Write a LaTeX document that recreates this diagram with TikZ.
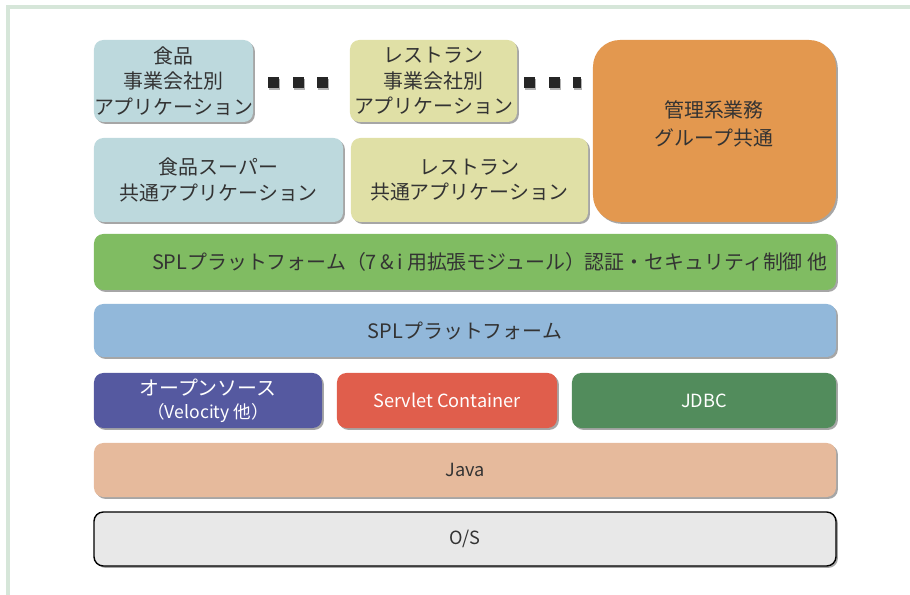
\documentclass[tikz,border=0pt]{standalone}
\usepackage{fontspec}
\setmainfont{Noto Sans CJK JP}
\usetikzlibrary{shadows}

\definecolor{framegreen}{HTML}{D6E6D9}
\definecolor{txtgray}{HTML}{333333}
\definecolor{foodblue}{HTML}{BDD9DD}
\definecolor{restyellow}{HTML}{E0E0A6}
\definecolor{kanriorange}{HTML}{E3984F}
\definecolor{extgreen}{HTML}{80BC62}
\definecolor{splblue}{HTML}{92B8DA}
\definecolor{ossviolet}{HTML}{5559A0}
\definecolor{servletred}{HTML}{E05E4C}
\definecolor{jdbcgreen}{HTML}{528C5C}
\definecolor{javabeige}{HTML}{E6BA9C}
\definecolor{osgray}{HTML}{E8E8E8}

\begin{document}
\begin{tikzpicture}[x=0.03cm,y=-0.03cm,inner sep=0pt,outer sep=0pt,
  every node/.style={font=\fontsize{17}{21.5}\selectfont, text=txtgray},
  layer/.style={rectangle, rounded corners=8pt, align=center,
    drop shadow={shadow xshift=1.6pt, shadow yshift=-1.6pt, fill=black!35, opacity=1}},
  dotbox/.style={rectangle, fill=black!85, minimum height=0.33cm,
    drop shadow={shadow xshift=1pt, shadow yshift=-1pt, fill=black!30, opacity=1}},
  latin/.style={font=\fontsize{15.5}{19}\selectfont}]
  \useasboundingbox (0,0) rectangle (910,595);
  % frame
  \draw[framegreen, line width=2.6pt] (8,595) -- (8,7) -- (910,7);

  % applications
  \node[layer, fill=foodblue, minimum width=4.77cm, minimum height=2.46cm] (foodCorp) at (173.5,81)
    {食品\\事業会社別\\アプリケーション};
  \node[layer, fill=restyellow, minimum width=5.01cm, minimum height=2.46cm] (restCorp) at (433.5,81)
    {レストラン\\事業会社別\\アプリケーション};
  \node[layer, fill=foodblue, minimum width=7.47cm, minimum height=2.52cm] (foodCommon) at (218.5,180)
    {食品スーパー\\共通アプリケーション};
  \node[layer, fill=restyellow, minimum width=7.11cm, minimum height=2.52cm] (restCommon) at (469.5,180)
    {レストラン\\共通アプリケーション};
  \node[layer, fill=kanriorange, rounded corners=23pt, minimum width=7.29cm, minimum height=5.46cm] (kanri) at (714.5,131) {};
  \node[align=center] (kanriLabel) at (714,124) {管理系業務\\[3pt]グループ共通};

  % dots
  \node[dotbox, minimum width=0.33cm] (dotA1) at (273,83) {};
  \node[dotbox, minimum width=0.33cm] (dotA2) at (298,83) {};
  \node[dotbox, minimum width=0.33cm] (dotA3) at (322,83) {};
  \node[dotbox, minimum width=0.33cm] (dotB1) at (529,83) {};
  \node[dotbox, minimum width=0.33cm] (dotB2) at (554,83) {};
  \node[dotbox, minimum width=0.24cm] (dotB3) at (576.5,83) {};

  % platform
  \node[layer, fill=extgreen, minimum width=22.26cm, minimum height=1.68cm] (splExt) at (465,262) {};
  \node[anchor=west] (splExtLabel) at (152,262)
    {SPLプラットフォーム（7\,\&\,i 用拡張モジュール）認証・セキュリティ制御 他};
  \node[layer, fill=splblue, minimum width=22.26cm, minimum height=1.59cm] (spl) at (465,330.5)
    {SPLプラットフォーム};

  % middleware
  \node[layer, fill=ossviolet, minimum width=6.84cm, minimum height=1.65cm, text=white] (oss) at (208,400.5)
    {オープンソース\\[-2pt]{\fontsize{15}{17}\selectfont （Velocity 他）}};
  \node[layer, latin, fill=servletred, minimum width=6.6cm, minimum height=1.65cm, text=white] (servlet) at (447,400.5)
    {Servlet Container};
  \node[layer, latin, fill=jdbcgreen, minimum width=7.92cm, minimum height=1.65cm, text=white] (jdbc) at (704,400.5)
    {JDBC};

  \node[layer, latin, fill=javabeige, minimum width=22.26cm, minimum height=1.62cm] (java) at (465,470)
    {Java};
  \node[layer, latin, fill=osgray, draw=black, line width=1.2pt, minimum width=22.26cm, minimum height=1.62cm] (os) at (465,539)
    {O/S};
\end{tikzpicture}
\end{document}
